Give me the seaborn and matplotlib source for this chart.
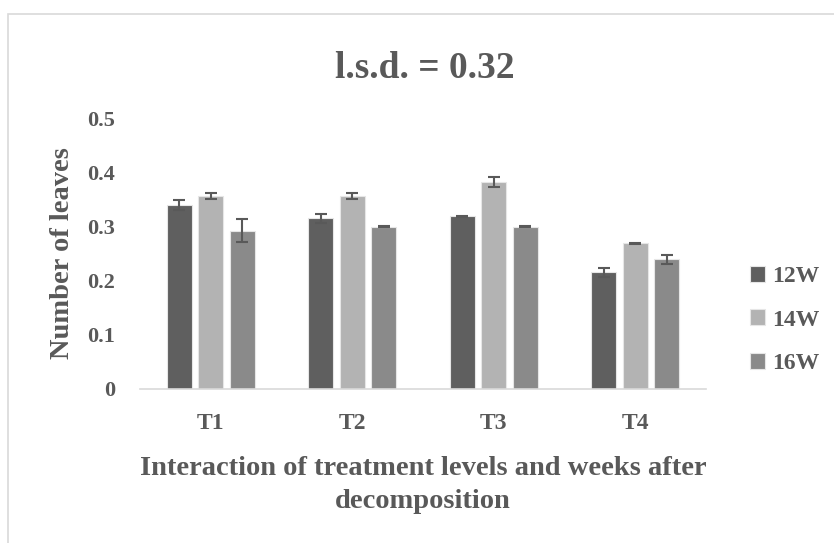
import matplotlib
matplotlib.use("Agg")
import matplotlib.pyplot as plt
from matplotlib.patches import Rectangle
import seaborn as sns
import pandas as pd

# Mean number of leaves per treatment and week, with standard errors
treatments = ["T1", "T2", "T3", "T4"]
weeks = ["12W", "14W", "16W"]
means_12w = [0.339, 0.315, 0.319, 0.215]
means_14w = [0.356, 0.356, 0.382, 0.269]
means_16w = [0.292, 0.299, 0.299, 0.239]
err_12w = [0.009, 0.008, 0.001, 0.008]
err_14w = [0.006, 0.006, 0.009, 0.001]
err_16w = [0.021, 0.001, 0.001, 0.009]
yticks = [0, 0.1, 0.2, 0.3, 0.4, 0.5]
ytick_labels = ["0", "0.1", "0.2", "0.3", "0.4", "0.5"]

colors = ["#5f5f5f", "#b3b3b3", "#8a8a8a"]
text_color = "#595959"

rows = []
for w, m in zip(weeks, [means_12w, means_14w, means_16w]):
    for t, v in zip(treatments, m):
        rows.append({"Treatment": t, "Week": w, "Value": v})
df = pd.DataFrame(rows)
errs = {"12W": err_12w, "14W": err_14w, "16W": err_16w}

sns.set_theme(style="white")
plt.rcParams["font.family"] = ["Liberation Serif", "DejaVu Serif"]
plt.rcParams["font.weight"] = "bold"

fig = plt.figure(figsize=(8.34, 5.43), dpi=100)
ax = fig.add_axes([140 / 834, 1 - 389 / 543, 566 / 834, 271 / 543])

sns.barplot(data=df, x="Treatment", y="Value", hue="Week", order=treatments,
            hue_order=weeks, palette=colors, width=0.664, gap=0.2,
            errorbar=None, edgecolor="#e6e6e6", linewidth=0.8, ax=ax,
            saturation=1)

# error bars at the centre of each drawn bar
for container, w in zip(ax.containers, weeks):
    xs = [p.get_x() + p.get_width() / 2 for p in container.patches]
    ys = [p.get_height() for p in container.patches]
    ax.errorbar(xs, ys, yerr=errs[w], fmt="none", ecolor=text_color,
                elinewidth=1.5, capsize=4.3, capthick=1.5, zorder=5)

ax.set_ylim(0, 0.5)
ax.set_xlim(-0.5, 3.5)
ax.set_yticks(yticks)
ax.set_yticklabels(ytick_labels)
for s in ["top", "right", "left"]:
    ax.spines[s].set_visible(False)
ax.spines["bottom"].set_color("#d9d9d9")
ax.spines["bottom"].set_linewidth(1.2)
ax.tick_params(axis="both", length=0, labelsize=16, labelcolor=text_color)
ax.tick_params(axis="y", pad=18)
ax.tick_params(axis="x", pad=17, labelsize=17)
for lab in ax.get_xticklabels() + ax.get_yticklabels():
    lab.set_fontweight("bold")

ax.set_ylabel("Number of leaves", fontsize=20.5, fontweight="bold",
              color=text_color, labelpad=9)
ax.set_xlabel("Interaction of treatment levels and weeks after\ndecomposition",
              fontsize=20.5, fontweight="bold", color=text_color, labelpad=16,
              linespacing=1.42)

fig.text(425 / 834, 1 - 68 / 543, "l.s.d. = 0.32", ha="center", va="center",
         fontsize=27, fontweight="bold", color=text_color)

handles, labels = ax.get_legend_handles_labels()
ax.legend(handles, labels, loc="center left", bbox_to_anchor=(750 / 834, 1 - 320 / 543),
          bbox_transform=fig.transFigure, frameon=False,
          labelcolor=text_color, handlelength=0.64, handleheight=0.64,
          handletextpad=0.3, labelspacing=0.95, borderpad=0, borderaxespad=0,
          prop={"weight": "bold", "size": 17})

# chart-area border
fig.patches.append(Rectangle((8 / 834, -0.1), 1.2, 1 - 14 / 543 + 0.1,
                             transform=fig.transFigure, fill=False,
                             edgecolor="#d9d9d9", linewidth=1.2))

fig.savefig("out.png", dpi=100, facecolor="white")
